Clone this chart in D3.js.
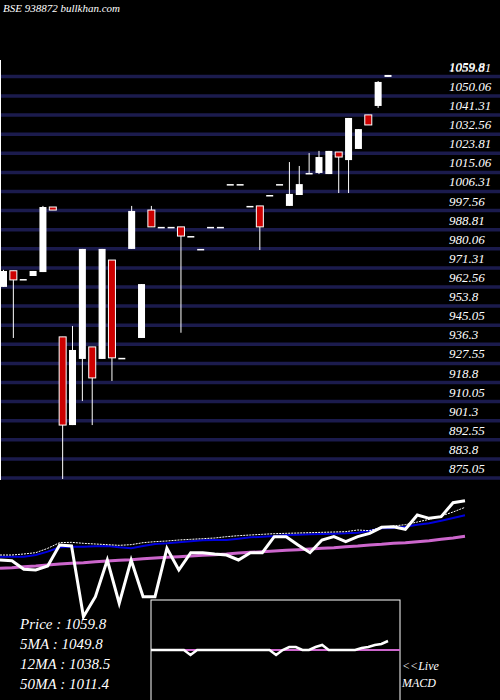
<!DOCTYPE html>
<html><head><meta charset="utf-8">
<script src="https://cdn.jsdelivr.net/npm/d3@7"></script>
<style>body{margin:0;background:#000}svg{display:block}text{font-family:"Liberation Serif",serif;font-style:italic;fill:#fff}</style>
</head><body>
<div id="chart"></div>
<script>
var W = 500, H = 700

// candles: open, high, low, close
var opens  = [962.6,970.0,966.2,967.6,969.4,999.2,939.7,899.3,929.6,935.1,929.6,974.9,930.1,980.0,939.2,997.8,990.1,990.1,990.1,985.9,980.0,990.1,990.1,1009.7,1009.7,999.7,999.7,1004.7,1009.7,999.7,1004.7,1014.8,1014.8,1014.3,1024.4,1020.7,1025.8,1041.4,1045.5,1058.8]
var highs  = [970.4,970.0,966.2,969.9,999.7,999.2,939.7,944.7,980.0,935.1,980.0,974.9,930.1,999.7,963.9,999.7,990.1,990.1,990.1,985.9,980.0,990.1,990.1,1009.7,1009.7,999.7,999.7,1004.7,1009.7,1019.8,1018.0,1023.9,1024.9,1024.9,1024.4,1040.0,1034.9,1041.4,1056.9,1059.7]
var lows   = [962.6,939.2,966.2,967.6,969.4,997.8,874.6,899.3,910.3,899.3,929.6,919.5,930.1,980.0,939.2,990.1,990.1,990.1,941.6,985.9,980.0,990.1,990.1,1009.7,1009.7,999.7,979.5,1004.7,1009.7,999.7,1004.7,1014.8,1014.3,1014.3,1005.6,1005.6,1025.8,1036.8,1044.6,1058.8]
var closes = [969.9,965.8,966.2,969.9,999.2,997.8,899.3,933.7,980.0,920.9,980.0,930.1,930.1,997.4,963.9,990.1,990.1,990.1,985.9,985.9,980.0,990.1,990.1,1009.7,1009.7,999.7,990.1,1004.7,1009.7,1005.2,1009.7,1014.8,1022.1,1024.9,1022.1,1040.0,1034.9,1036.8,1056.5,1059.7]

var priceTicks = [1059.81,1050.06,1041.31,1032.56,1023.81,1015.06,1006.31,997.56,988.81,980.06,971.31,962.56,953.8,945.05,936.3,927.55,918.8,910.05,901.3,892.55,883.8,875.05]

// lower panel levels (arbitrary units, higher = up)
var priceLine = [210,212,238,240,228,165,168,380,320,210,340,210,320,320,175,240,188,188,192,195,210,188,188,140,140,165,188,150,140,155,140,130,112,110,118,75,85,80,38,32]
var ma5  = [195,195,192,188,175,158,157,160,162,164,166,164,158,155,153,150,148,146,144,140,137,135,133,131,130,129,128,127,126,125,120,122,112,108,104,96,88,78,66,52]
var ma12 = [200,200,200,195,185,172,170,170,169,168,172,175,168,162,160,157,154,151,150,150,146,142,140,138,135,134,133,132,131,130,128,122,115,114,110,104,100,92,84,76]
var ma50 = [235,233,230,228,225,222,220,218,215,213,211,209,206,204,202,200,198,196,194,192,189,187,185,183,181,179,177,175,173,170,168,165,163,160,158,155,152,148,144,139]
var macd = [0,0,0,0,0,0,-5,0,0,0,0,0,0,0,0,0,0,0,0,-5,0,3,3,0,0,3,5,0,0,0,0,0,2,3,5,6,9]
var legend = ["Price   : 1059.8","5MA : 1049.8","12MA : 1038.5","50MA : 1011.4"]

var svg = d3.select("#chart").append("svg").attr("width", W).attr("height", H)
svg.append("rect").attr("width", W).attr("height", H).attr("fill", "#000")

var y = d3.scaleLinear().domain([875.05, 1050.06]).range([478, 96])
var x = d3.scaleLinear().domain([0, 39]).range([3.5, 388])

svg.selectAll(".grid").data(priceTicks).enter().append("line")
    .attr("x1", 0).attr("x2", 500)
    .attr("y1", function(d, i) { return i == 0 ? 76.5 : y(d) })
    .attr("y2", function(d, i) { return i == 0 ? 76.5 : y(d) })
    .attr("stroke", "#1b1b4d").attr("stroke-width", 3.5)

svg.selectAll(".tick").data(priceTicks).enter().append("text")
    .attr("x", 449).attr("y", function(d, i) { return (i == 0 ? 76.5 : y(d)) - 5 })
    .style("font-size", "13px").text(function(d) { return d })
svg.append("text").attr("x", 449).attr("y", 71).style("font-size", "13px").text("1059.8")

svg.append("line").attr("x1", 0.5).attr("x2", 0.5).attr("y1", 60).attr("y2", 480).attr("stroke", "#fff")

var idx = d3.range(opens.length)
svg.selectAll(".wick").data(idx).enter().append("line")
    .attr("x1", function(i) { return x(i) }).attr("x2", function(i) { return x(i) })
    .attr("y1", function(i) { return y(highs[i]) }).attr("y2", function(i) { return y(lows[i]) })
    .attr("stroke", "#fff")

svg.selectAll(".body").data(idx).enter().append("rect")
    .attr("x", function(i) { return x(i) - 3.5 }).attr("width", 7)
    .attr("y", function(i) { return y(Math.max(opens[i], closes[i])) })
    .attr("height", function(i) { return Math.max(1.5, Math.abs(y(opens[i]) - y(closes[i]))) })
    .attr("fill", function(i) { return closes[i] < opens[i] ? "#cc0000" : "#fff" })
    .attr("stroke", "#fff").attr("stroke-width", function(i) { return closes[i] < opens[i] ? 1 : 0 })

// lower panel
var lx = d3.scaleLinear().domain([0, 39]).range([0, 465])
var ly = d3.scaleLinear().domain([0, 300]).range([490, 590])
var line = d3.line().x(function(d, i) { return lx(i) }).y(function(d) { return ly(d) })

svg.append("path").attr("d", line(ma50)).attr("fill", "none").attr("stroke", "#cc66cc").attr("stroke-width", 3)
svg.append("path").attr("d", line(ma12)).attr("fill", "none").attr("stroke", "#0000dd").attr("stroke-width", 2)
svg.append("path").attr("d", line(ma5)).attr("fill", "none").attr("stroke", "#fff").attr("stroke-width", 1).attr("stroke-dasharray", "2,1")
svg.append("path").attr("d", line(priceLine)).attr("fill", "none").attr("stroke", "#fff").attr("stroke-width", 3)

// MACD box
svg.append("rect").attr("x", 151).attr("y", 600).attr("width", 249).attr("height", 105)
    .attr("fill", "#000").attr("stroke", "#fff")
var mx = d3.scaleLinear().domain([0, macd.length - 1]).range([151, 388])
var my = d3.scaleLinear().domain([0, 10]).range([650, 640])
svg.append("line").attr("x1", 151).attr("x2", 400).attr("y1", my(0)).attr("y2", my(0)).attr("stroke", "#cc66cc").attr("stroke-width", 2)
svg.append("path").attr("d", d3.line().x(function(d, i) { return mx(i) }).y(function(d) { return my(d) })(macd))
    .attr("fill", "none").attr("stroke", "#fff").attr("stroke-width", 2.5)

svg.selectAll(".leg").data(legend).enter().append("text")
    .attr("x", 20).attr("y", function(d, i) { return 629 + i * 20 })
    .style("font-size", "15px").text(function(d) { return d })
svg.append("text").attr("x", 402).attr("y", 670).style("font-size", "12px").text("<<Live")
svg.append("text").attr("x", 402).attr("y", 687).style("font-size", "12px").text("MACD")
svg.append("text").attr("x", 3).attr("y", 12).style("font-size", "11px").text("BSE 938872 bullkhan.com")
</script>
</body></html>
